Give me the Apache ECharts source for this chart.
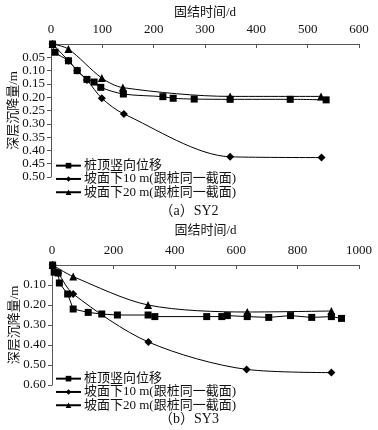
<!DOCTYPE html>
<html>
<head>
<meta charset="utf-8">
<script src="https://cdn.jsdelivr.net/npm/echarts@6/dist/echarts.min.js"></script>
<style>html,body{margin:0;padding:0;background:#fff}#c{width:378px;height:430px}</style>
</head>
<body>
<div id="c"></div>
<script>
// ---- Data (SY2) ----
var sy2SquareX = [3, 8, 34, 51, 70, 84, 97, 141, 218, 238, 279, 349, 466, 536];
var sy2SquareY = [0, 0.031, 0.063, 0.100, 0.133, 0.143, 0.163, 0.188, 0.198, 0.204, 0.207, 0.208, 0.208, 0.210];
var sy2DiamondX = [3, 34, 51, 70, 99, 142, 349, 527];
var sy2DiamondY = [0, 0.063, 0.100, 0.135, 0.204, 0.263, 0.424, 0.427];
var sy2TriangleX = [3, 34, 99, 140, 349, 526];
var sy2TriangleY = [0, 0.019, 0.128, 0.164, 0.197, 0.197];
// ---- Data (SY3) ----
var sy3SquareX = [2, 7, 20, 24, 51, 69, 118, 162, 213, 313, 335, 504, 553, 571, 636, 706, 777, 846, 910, 943];
var sy3SquareY = [0, 0.036, 0.040, 0.090, 0.145, 0.220, 0.237, 0.245, 0.250, 0.250, 0.258, 0.258, 0.258, 0.253, 0.258, 0.262, 0.253, 0.262, 0.258, 0.267];
var sy3DiamondX = [2, 20, 69, 314, 634, 910];
var sy3DiamondY = [0, 0.040, 0.145, 0.385, 0.522, 0.538];
var sy3TriangleX = [2, 69, 313, 636, 910];
var sy3TriangleY = [0, 0.058, 0.200, 0.235, 0.230];
// ---- Labels ----
var seriesNames = ['桩顶竖向位移', '坡面下10 m(跟桩同一截面)', '坡面下20 m(跟桩同一截面)'];
var xName = '固结时间/d';
var yName = '深层沉降量/m';
var captions = ['（a）SY2', '（b）SY3'];

function pairs(xs, ys) { return xs.map(function (x, i) { return [x, ys[i]]; }); }

var FONT = '"Liberation Serif","Noto Sans CJK SC",serif';
var txt = { fontFamily: FONT, fontSize: 13, color: '#111' };

function xAxisCfg(idx, max, interval, gap) {
  return {
    gridIndex: idx, type: 'value', position: 'top', min: 0, max: max, interval: interval,
    name: xName, nameLocation: 'middle', nameGap: gap, nameMoveOverlap: false,
    nameTextStyle: txt,
    axisLine: { show: true, lineStyle: { color: '#555', width: 1 } },
    axisTick: { show: true, inside: true, length: 4, lineStyle: { color: '#555' } },
    axisLabel: Object.assign({ margin: 8, formatter: function (v) { return String(v); } }, txt),
    splitLine: { show: false }
  };
}
function yAxisCfg(idx, max, interval) {
  return {
    gridIndex: idx, type: 'value', inverse: true, min: 0, max: max, interval: interval,
    name: yName, nameLocation: 'middle', nameGap: 31, nameRotate: 90, nameMoveOverlap: false,
    nameTextStyle: txt,
    axisLine: { show: true, lineStyle: { color: '#555', width: 1 } },
    axisTick: { show: true, inside: false, length: 4, lineStyle: { color: '#555' } },
    axisLabel: Object.assign({ margin: 6, showMinLabel: false, formatter: function (v) { return v.toFixed(2); } }, txt),
    splitLine: { show: false }
  };
}
function ser(name, idx, data, symbol, size, smooth) {
  return {
    name: name, type: 'line', xAxisIndex: idx, yAxisIndex: idx, data: data,
    symbol: symbol, symbolSize: size, smooth: smooth, showAllSymbol: true,
    lineStyle: { color: '#000', width: 1 }, itemStyle: { color: '#000' },
    animation: false
  };
}
function legendCfg(top) {
  return {
    data: seriesNames, orient: 'vertical', left: 55, top: top,
    itemWidth: 25, itemHeight: 7, itemGap: 0,
    textStyle: { fontFamily: FONT, fontSize: 13, color: '#111', lineHeight: 13.3, padding: [0, 0, 0, -2] },
    padding: 0, selectedMode: false
  };
}

var chart = echarts.init(document.getElementById('c'));
chart.setOption({
  animation: false,
  grid: [
    { left: 51, right: 19, top: 44, height: 133, outerBoundsMode: 'none', containLabel: false },
    { left: 52, right: 19, top: 265, height: 120, outerBoundsMode: 'none', containLabel: false }
  ],
  xAxis: [xAxisCfg(0, 600, 100, 25), xAxisCfg(1, 1000, 200, 28)],
  yAxis: [yAxisCfg(0, 0.5, 0.05), yAxisCfg(1, 0.6, 0.1)],
  legend: [legendCfg(159), legendCfg(372)],
  series: [
    ser(seriesNames[0], 0, pairs(sy2SquareX, sy2SquareY), 'rect', 7, 0.3),
    ser(seriesNames[1], 0, pairs(sy2DiamondX, sy2DiamondY), 'diamond', 8, 0.3),
    ser(seriesNames[2], 0, pairs(sy2TriangleX, sy2TriangleY), 'triangle', 8, 0.3),
    ser(seriesNames[0], 1, pairs(sy3SquareX, sy3SquareY), 'rect', 7, false),
    ser(seriesNames[1], 1, pairs(sy3DiamondX, sy3DiamondY), 'diamond', 8, 0.3),
    ser(seriesNames[2], 1, pairs(sy3TriangleX, sy3TriangleY), 'triangle', 8, 0.3)
  ],
  graphic: [
    { type: 'text', left: 'center', top: 204, style: { text: captions[0], font: '14px ' + FONT, fill: '#111' } },
    { type: 'text', left: 'center', top: 412, style: { text: captions[1], font: '14px ' + FONT, fill: '#111' } }
  ]
});
</script>
</body>
</html>
